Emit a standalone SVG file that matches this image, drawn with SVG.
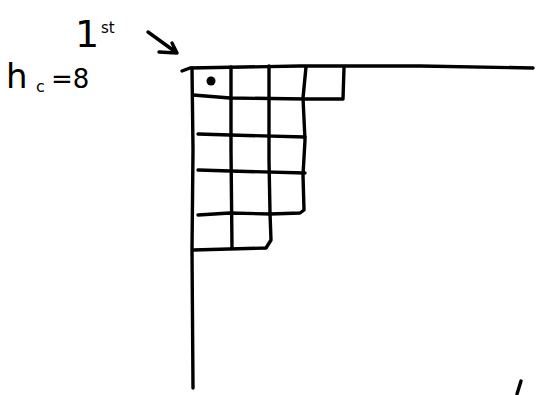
<svg xmlns="http://www.w3.org/2000/svg" width="541" height="395" viewBox="0 0 541 395">
<style>
.s{fill:none;stroke:#000;stroke-width:3.4;stroke-linecap:round;stroke-linejoin:round}
.t{font-family:"DejaVu Sans",sans-serif;fill:#000}
</style>
<rect width="541" height="395" fill="#fff"/>
<g id="axes">
<path class="s" d="M182,71 L190,68 L300,66 L420,66 L533,68"/>
<path class="s" d="M192,68 L193,150 L192,250 L193,388"/>
</g>
<g id="diagram">
<path class="s" d="M193,95 L230,98 L305,99 L343,99 L344,68"/>
<path class="s" d="M231,67 L231,150 L232,248"/>
<path class="s" d="M269,66 L269,160 L270,213 L271,240 L266,248 L193,250"/>
<path class="s" d="M306,67 L303,98 L305,140 L303,175 L304,210 L300,213 L270,214"/>
<path class="s" d="M198,134 L230,135 L305,137"/>
<path class="s" d="M198,170 L230,171 L305,173"/>
<path class="s" d="M198,215 L230,213 L270,214"/>
<circle id="dot" cx="211" cy="81" r="4.5" fill="#000"/>
</g>
<g id="labels">
<text class="t" x="75" y="47" font-size="38">1</text>
<text class="t" x="101" y="33" font-size="15">st</text>
<text class="t" x="6" y="88" font-size="34">h</text>
<text class="t" x="36" y="92" font-size="16">c</text>
<text class="t" x="51" y="88" font-size="26">=8</text>
</g>
<g id="connectors">
<path class="s" d="M148,32 L177,53 M159,52 L177,53 L172,43"/>
<path class="s" d="M521,381 L517,394"/>
</g>
</svg>
